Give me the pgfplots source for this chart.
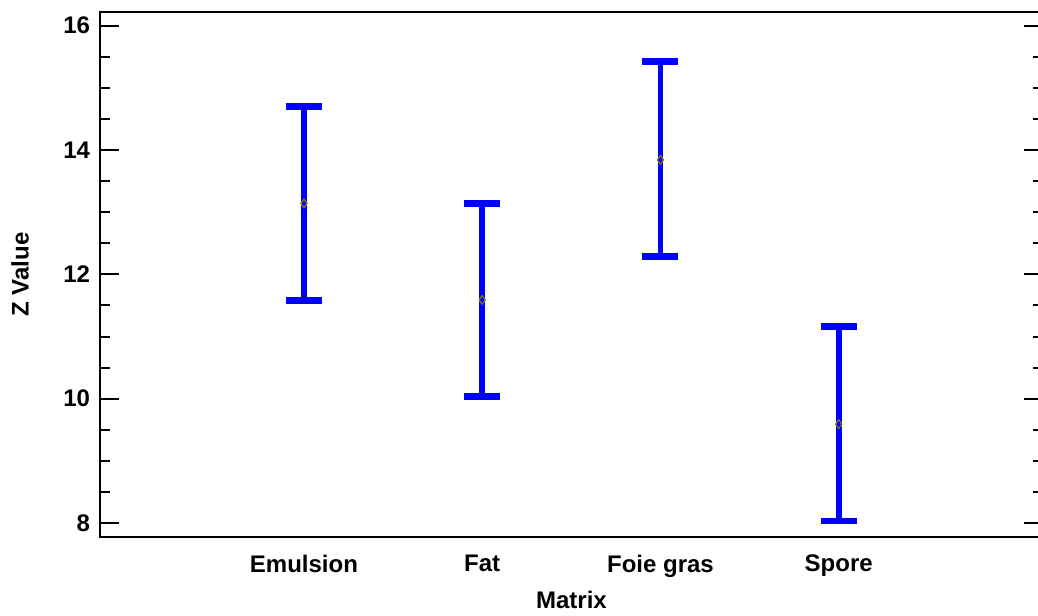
\documentclass[border=0pt]{standalone}
\usepackage{pgfplots}
\pgfplotsset{compat=1.18}
\usepackage{pgfplotstable}
\usepackage{fontspec}
\setmainfont{Liberation Sans}

% Means and confidence limits of Z by matrix
\pgfplotstableread{
x  y      ep    em
1  13.14  1.56  1.56
2  11.59  1.55  1.55
3  13.84  1.58  1.55
4  9.59   1.57  1.56
}\zdata

\begin{document}
\begin{tikzpicture}
\useasboundingbox (-75pt,-58.5pt) rectangle (703.5pt,402.75pt);
\begin{axis}[
  scale only axis,
  width=707.25pt, height=393.75pt,
  xmin=-0.144, xmax=5.146,
  ymin=7.775, ymax=16.22,
  font=\fontsize{18}{21}\selectfont\bfseries,
  axis line style={line width=1.5pt},
  xtick={1,2,3,4},
  xticklabels={Emulsion,Fat,Foie gras,Spore},
  major x tick style={draw=none},
  ytick={8,10,12,14,16},
  minor y tick num=3,
  tick align=inside,
  ytick pos=both,
  yticklabel pos=left,
  major tick length=14.25pt,
  minor tick length=7.5pt,
  every tick/.style={black, line width=1.5pt},
  x tick label style={yshift=-10pt},
  y tick label style={xshift=-4pt},
  /pgf/number format/assume math mode=true,
  xlabel={Matrix},
  ylabel={Z Value},
  xlabel style={at={(axis description cs:0.5,0)}, anchor=center, yshift=-47pt},
  ylabel style={at={(axis description cs:0,0.5)}, anchor=center, yshift=60pt},
]
\addplot[
  only marks, mark=diamond, mark size=3.2pt,
  mark options={draw=olive, line width=0.8pt},
  error bars/.cd,
    y dir=both, y explicit,
    error bar style={blue, line width=4.25pt},
    error mark options={blue, line width=5pt, mark size=13.5pt, rotate=90},
] table[x=x, y=y, y error plus=ep, y error minus=em] {\zdata};
\end{axis}
\end{tikzpicture}
\end{document}
